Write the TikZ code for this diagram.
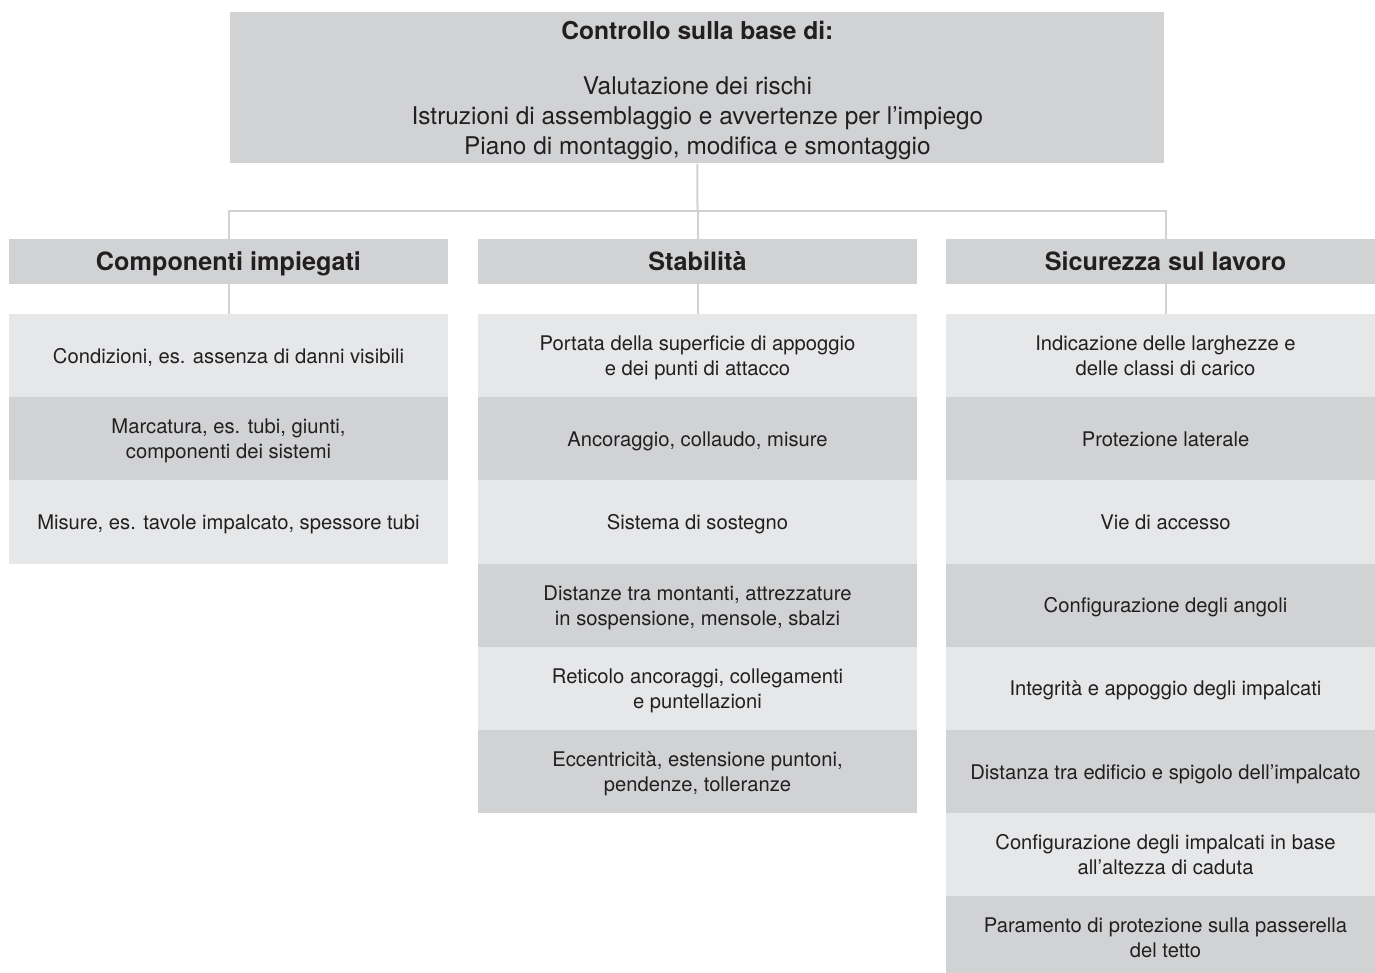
\documentclass[tikz,border=0pt]{standalone}
\usepackage{fontspec}
\setmainfont{TeX Gyre Heros}
\definecolor{darkg}{HTML}{D1D2D4}
\definecolor{lightg}{HTML}{E6E7E8}
\definecolor{txt}{HTML}{231F20}
\begin{document}
\begin{tikzpicture}[x=0.5pt,y=-0.5pt,
  cell/.style={minimum width=219.5pt, minimum height=41.6pt, inner sep=0pt, outer sep=0pt,
    align=center, anchor=north west, text=txt, text depth=0pt, font=\fontsize{10.1}{12.5}\selectfont},
  rowL/.style={cell, fill=lightg},
  rowD/.style={cell, fill=darkg},
  hdr/.style={cell, fill=darkg, minimum height=22.5pt, text height=9.1pt, text depth=0pt,
    font=\bfseries\fontsize{12.6}{14}\selectfont},
  conn/.style={draw=darkg, line width=1pt}]
\useasboundingbox (0,0) rectangle (1375,973);
\clip (0,0) rectangle (1375,973);
\fill[white] (0,0) rectangle (1375,973);
% top box
\node[fill=darkg, minimum width=467pt, minimum height=75.5pt, inner sep=0pt, anchor=north west,
  align=center, text=txt, text depth=0pt, font=\fontsize{12.2}{15}\selectfont] (top) at (230,12)
  {{\fontsize{12.3}{15}\selectfont\bfseries Controllo sulla base di:}\\[12.5pt]
   Valutazione dei rischi\\
   Istruzioni di assemblaggio e avvertenze per l’impiego\\
   Piano di montaggio, modifica e smontaggio};
% headers
\node[hdr] (h1) at (9,239) {Componenti impiegati};
\node[hdr] (h2) at (478,239) {Stabilità};
\node[hdr] (h3) at (946,239) {Sicurezza sul lavoro};
\coordinate (bus) at (697.5,211);
\draw[conn] (top.south) -- (bus);
\draw[conn] (h1.north) |- (bus) -| (h3.north);
\draw[conn] (bus) -- (h2.north);
% column 1
\node[rowL] (a1) at (9,314) {Condizioni, es. assenza di danni visibili};
\node[rowD] (a2) at (9,397.2) {Marcatura, es. tubi, giunti,\\componenti dei sistemi};
\node[rowL] (a3) at (9,480.4) {Misure, es. tavole impalcato, spessore tubi};
% column 2
\node[rowL] (b1) at (478,314) {Portata della superficie di appoggio\\e dei punti di attacco};
\node[rowD] (b2) at (478,397.2) {Ancoraggio, collaudo, misure};
\node[rowL] (b3) at (478,480.4) {Sistema di sostegno};
\node[rowD] (b4) at (478,563.6) {Distanze tra montanti, attrezzature\\in sospensione, mensole, sbalzi};
\node[rowL] (b5) at (478,646.8) {Reticolo ancoraggi, collegamenti\\e puntellazioni};
\node[rowD] (b6) at (478,730) {Eccentricità, estensione puntoni,\\pendenze, tolleranze};
% column 3
\node[rowL] (c1) at (946,314) {Indicazione delle larghezze e\\delle classi di carico};
\node[rowD] (c2) at (946,397.2) {Protezione laterale};
\node[rowL] (c3) at (946,480.4) {Vie di accesso};
\node[rowD] (c4) at (946,563.6) {Configurazione degli angoli};
\node[rowL] (c5) at (946,646.8) {Integrità e appoggio degli impalcati};
\node[rowD] (c6) at (946,730) {Distanza tra edificio e spigolo dell’impalcato};
\node[rowL] (c7) at (946,813.2) {Configurazione degli impalcati in base\\all’altezza di caduta};
\node[rowD] (c8) at (946,896.4) {Paramento di protezione sulla passerella\\del tetto};
% header to rows
\draw[conn] (h1.south) -- (a1.north);
\draw[conn] (h2.south) -- (b1.north);
\draw[conn] (h3.south) -- (c1.north);
\end{tikzpicture}
\end{document}
